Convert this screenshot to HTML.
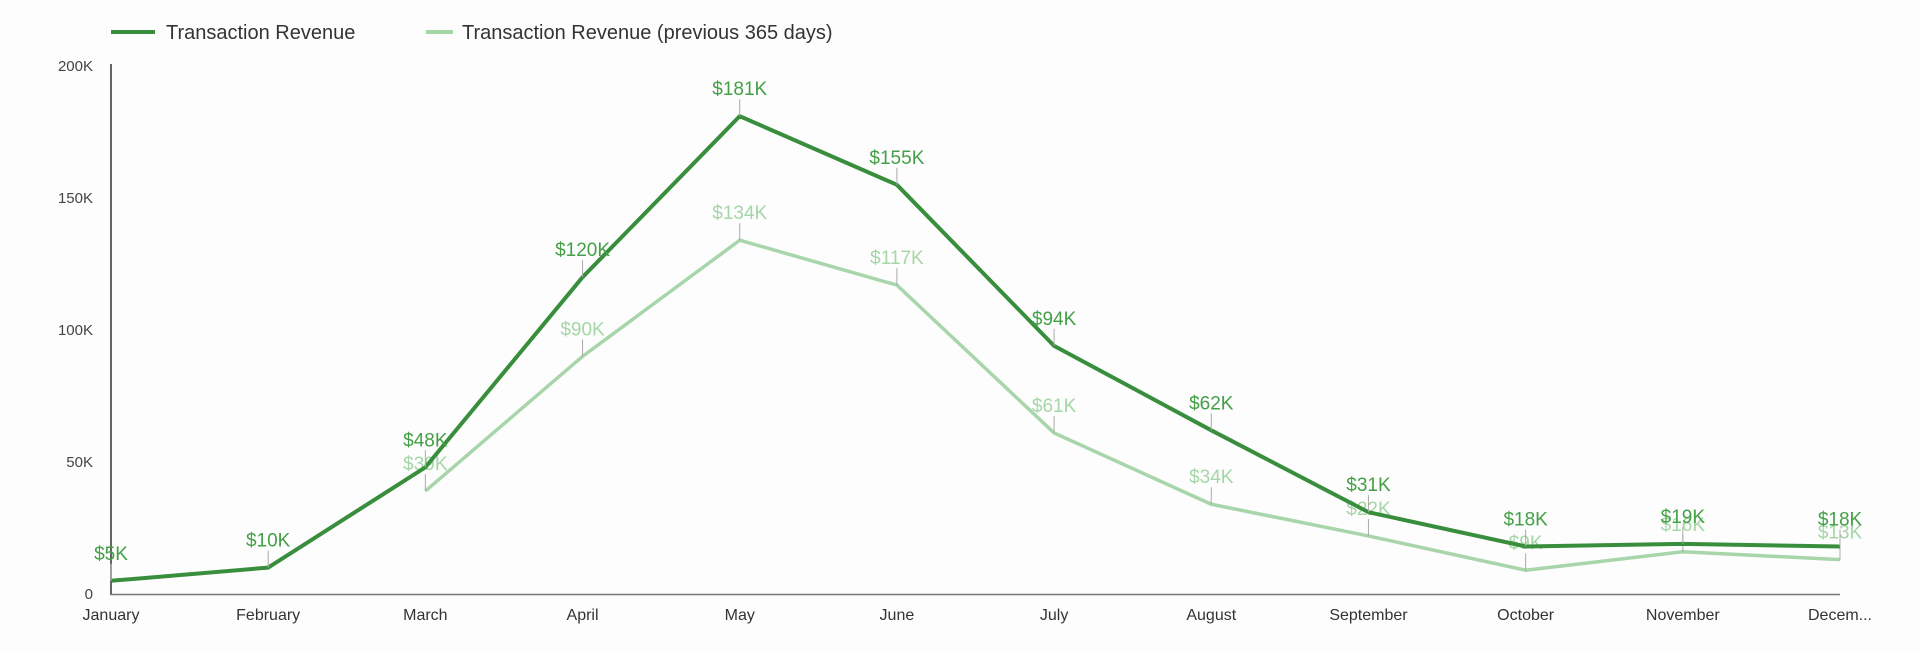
<!DOCTYPE html>
<html><head><meta charset="utf-8"><style>
html,body{margin:0;padding:0;background:#fdfdfd;}
svg{display:block;font-family:"Liberation Sans",sans-serif;}
</style></head><body>
<svg width="1920" height="650" viewBox="0 0 1920 650" xmlns="http://www.w3.org/2000/svg">
<rect width="1920" height="650" fill="#fdfdfd"/>
<line x1="111" y1="32" x2="155" y2="32" stroke="#388e3c" stroke-width="4"/>
<text x="166" y="39" font-size="20" fill="#333">Transaction Revenue</text>
<line x1="426" y1="32" x2="453" y2="32" stroke="#a5d6a7" stroke-width="4"/>
<text x="462" y="39" font-size="20" fill="#333">Transaction Revenue (previous 365 days)</text>
<g font-size="15" fill="#444" text-anchor="end">
<text x="93" y="71">200K</text><text x="93" y="203">150K</text><text x="93" y="335">100K</text><text x="93" y="467">50K</text><text x="93" y="599">0</text>
</g>
<line x1="111" y1="64" x2="111" y2="595" stroke="#333" stroke-width="1.5"/>
<line x1="111" y1="594.5" x2="1840" y2="594.5" stroke="#777" stroke-width="1.5"/>
<g font-size="16" fill="#333" text-anchor="middle" id="months"></g>
<g id="plot"></g>
</svg>
<script>
var x0=111,dx=(1840-111)/11;
function Y(v){return 594-v*2.64;}
var m=["January","February","March","April","May","June","July","August","September","October","November","Decem..."];
var g=document.getElementById("months"),ns="http://www.w3.org/2000/svg";
m.forEach(function(t,i){var e=document.createElementNS(ns,"text");e.setAttribute("x",x0+i*dx);e.setAttribute("y",620);e.textContent=t;g.appendChild(e);});
var cur=[5,10,48,120,181,155,94,62,31,18,19,18],prev=[null,null,39,90,134,117,61,34,22,9,16,13];
var p=document.getElementById("plot");
function series(d,col,lcol,w){
 var pts=[];d.forEach(function(v,i){if(v!=null)pts.push((x0+i*dx)+","+Y(v));});
 var l=document.createElementNS(ns,"polyline");l.setAttribute("points",pts.join(" "));l.setAttribute("fill","none");l.setAttribute("stroke",col);l.setAttribute("stroke-width",w);l.setAttribute("stroke-linejoin","round");p.appendChild(l);
 d.forEach(function(v,i){if(v==null)return;var x=x0+i*dx,y=Y(v);
  var t=document.createElementNS(ns,"line");t.setAttribute("x1",x);t.setAttribute("x2",x);t.setAttribute("y1",y-17);t.setAttribute("y2",y);t.setAttribute("stroke","#aaa");t.setAttribute("stroke-width","1");p.appendChild(t);
  var e=document.createElementNS(ns,"text");e.setAttribute("x",x);e.setAttribute("y",y-21);e.setAttribute("font-size","19");e.setAttribute("fill",lcol);e.setAttribute("text-anchor","middle");e.textContent="$"+v+"K";p.appendChild(e);});
}
series(prev,"#a8d5aa","#a5d6a7",3.5);
series(cur,"#388e3c","#43a047",4);
</script>
</body></html>
